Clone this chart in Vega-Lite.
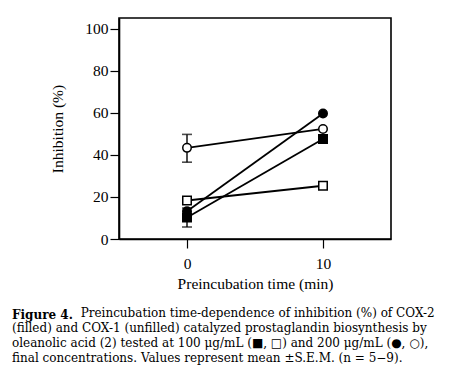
{
  "$schema": "https://vega.github.io/schema/vega-lite/v6.json",
  "width": 272,
  "height": 221,
  "autosize": {"type": "none"},
  "padding": {"left": 119, "top": 18, "right": 68, "bottom": 132},
  "background": "white",
  "config": {
    "view": {"stroke": "black", "strokeWidth": 1.6},
    "axis": {
      "grid": false,
      "domainColor": "black",
      "domainWidth": 1.6,
      "tickColor": "black",
      "tickWidth": 1.2,
      "tickSize": 9,
      "labelFont": "Liberation Serif",
      "labelFontSize": 15.5,
      "labelColor": "black",
      "titleFont": "Liberation Serif",
      "titleFontSize": 15.5,
      "titleFontWeight": "normal",
      "titleColor": "black"
    }
  },
  "title": {
    "text": "Figure 4.",
    "subtitle": [
      "\u200b\u00a0\u00a0\u00a0\u00a0\u00a0\u00a0\u00a0\u00a0\u00a0\u00a0\u00a0\u00a0\u00a0\u00a0\u00a0\u00a0\u00a0\u00a0Preincubation time-dependence of inhibition (%) of COX-2",
      "(filled) and COX-1 (unfilled) catalyzed prostaglandin biosynthesis by",
      "oleanolic acid (2) tested at 100 \u03bcg/mL (\u25a0, \u25a1) and 200 \u03bcg/mL (\u25cf, \u25cb),",
      "final concentrations. Values represent mean \u00b1S.E.M. (n = 5\u22129)."
    ],
    "orient": "bottom",
    "anchor": "start",
    "frame": "group",
    "dx": -107,
    "offset": 18,
    "font": "DejaVu Serif",
    "fontSize": 12,
    "fontWeight": "bold",
    "color": "black",
    "subtitleFont": "DejaVu Serif",
    "subtitleFontSize": 12,
    "subtitleColor": "black",
    "subtitleLineHeight": 15,
    "subtitlePadding": -14
  },
  "data": {
    "values": [
      {"series": "COX-2 100", "fill": "filled", "shape": "square", "time": 0, "value": 10.2, "lower": 5.7, "upper": 14.7},
      {"series": "COX-2 100", "fill": "filled", "shape": "square", "time": 10, "value": 47.5, "lower": 47.5, "upper": 47.5},
      {"series": "COX-1 100", "fill": "open", "shape": "square", "time": 0, "value": 18.3, "lower": 18.3, "upper": 18.3},
      {"series": "COX-1 100", "fill": "open", "shape": "square", "time": 10, "value": 25.3, "lower": 25.3, "upper": 25.3},
      {"series": "COX-2 200", "fill": "filled", "shape": "circle", "time": 0, "value": 13.2, "lower": 13.2, "upper": 13.2},
      {"series": "COX-2 200", "fill": "filled", "shape": "circle", "time": 10, "value": 59.6, "lower": 59.6, "upper": 59.6},
      {"series": "COX-1 200", "fill": "open", "shape": "circle", "time": 0, "value": 43.3, "lower": 36.5, "upper": 49.7},
      {"series": "COX-1 200", "fill": "open", "shape": "circle", "time": 10, "value": 52.3, "lower": 52.3, "upper": 52.3}
    ]
  },
  "encoding": {
    "x": {
      "field": "time",
      "type": "quantitative",
      "scale": {"domain": [-5, 15], "nice": false, "zero": false},
      "axis": {"values": [0, 10], "title": "Preincubation time (min)", "labelPadding": 8, "titlePadding": 5}
    }
  },
  "layer": [
    {
      "mark": {"type": "rule", "color": "black", "strokeWidth": 1.4},
      "encoding": {
        "y": {"field": "lower", "type": "quantitative"},
        "y2": {"field": "upper"}
      }
    },
    {
      "mark": {"type": "tick", "color": "black", "orient": "horizontal", "size": 10, "thickness": 1.6},
      "transform": [{"filter": "datum.lower < datum.value"}],
      "encoding": {"y": {"field": "lower", "type": "quantitative"}}
    },
    {
      "mark": {"type": "tick", "color": "black", "orient": "horizontal", "size": 10, "thickness": 1.6},
      "transform": [{"filter": "datum.upper > datum.value"}],
      "encoding": {"y": {"field": "upper", "type": "quantitative"}}
    },
    {
      "mark": {"type": "line", "color": "black", "strokeWidth": 1.8},
      "encoding": {
        "y": {"field": "value", "type": "quantitative"},
        "detail": {"field": "series"}
      }
    },
    {
      "mark": {"type": "point", "filled": false, "size": 72, "strokeWidth": 1.5, "stroke": "black", "opacity": 1},
      "encoding": {
        "y": {
          "field": "value",
          "type": "quantitative",
          "scale": {"domain": [0, 105], "nice": false},
          "axis": {"values": [0, 20, 40, 60, 80, 100], "title": "Inhibition (%)", "labelPadding": 2, "titlePadding": 19}
        },
        "shape": {"field": "shape", "type": "nominal", "scale": {"domain": ["square", "circle"], "range": ["square", "circle"]}, "legend": null},
        "fill": {"field": "fill", "type": "nominal", "scale": {"domain": ["filled", "open"], "range": ["black", "white"]}, "legend": null}
      }
    }
  ]
}
